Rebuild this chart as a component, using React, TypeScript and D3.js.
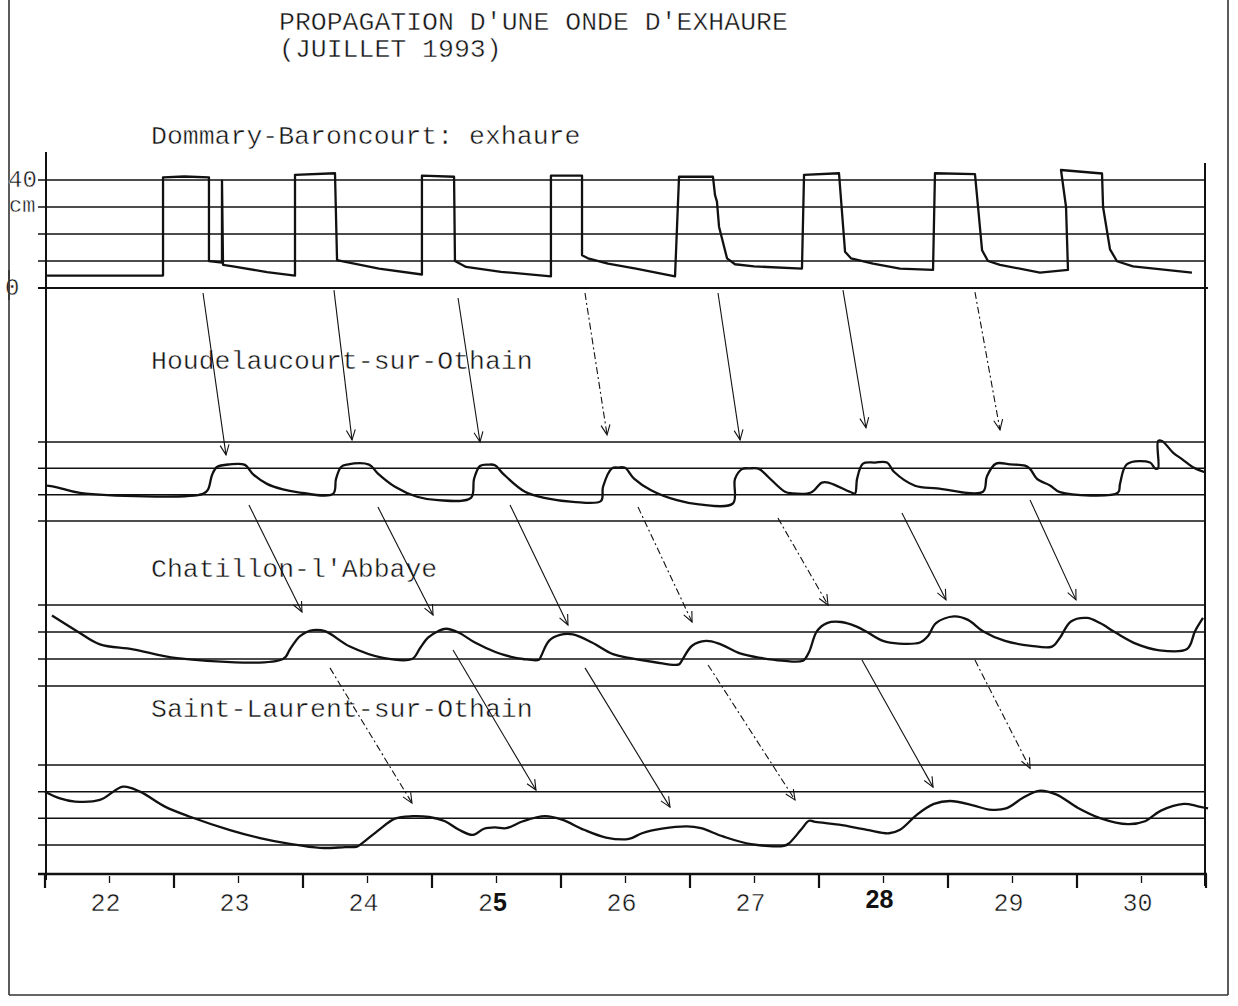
import React from 'react';
import * as d3 from 'd3';

// ---------- DATA ----------
const titleLines = ["PROPAGATION D'UNE ONDE D'EXHAURE", '(JUILLET 1993)'];
const stationNames = ['Dommary-Baroncourt: exhaure', 'Houdelaucourt-sur-Othain', "Chatillon-l'Abbaye", 'Saint-Laurent-sur-Othain'];
const dayBoundaries = [22, 23, 24, 25, 26, 27, 28, 29, 30, 31];
const dayLabels = ['22', '23', '24', '25', '26', '27', '28', '29', '30'];
const dommaryTicks = [0, 10, 20, 30, 40];
const levelTicks = [0, 1, 2, 3];

// [day (July), water level in cm]
const dommary: [number, number][] = [
  [22.016, 4.6], [22.915, 4.6], [22.915, 41], [23.08, 41.3], [23.271, 41], [23.271, 10], [23.372, 9.4], [23.372, 39.8],
  [23.38, 8.6], [23.457, 8], [23.721, 5.9], [23.938, 4.6], [23.938, 41.9], [24.248, 42.5], [24.264, 10.3], [24.31, 9.9],
  [24.589, 7.2], [24.922, 5], [24.922, 41.6], [25.171, 41.2], [25.178, 10], [25.264, 7.8], [25.535, 6], [25.922, 4.3],
  [25.922, 41.6], [26.163, 41.6], [26.163, 12.1], [26.209, 11], [26.364, 9], [26.581, 7.2], [26.884, 4.3], [26.915, 41.2],
  [27.178, 41.2], [27.194, 34.4], [27.209, 32], [27.225, 22.7], [27.287, 11], [27.349, 8.8], [27.496, 8], [27.868, 7.2],
  [27.884, 41.9], [28.155, 42.5], [28.171, 32.6], [28.202, 13.4], [28.248, 11], [28.419, 9], [28.628, 7.2], [28.884, 6.7],
  [28.899, 42.5], [29.209, 42.2], [29.233, 30], [29.264, 14], [29.31, 10], [29.403, 8.6], [29.713, 5.7], [29.93, 6.7],
  [29.915, 30], [29.876, 43.7], [30.194, 42.4], [30.202, 30], [30.256, 14.3], [30.31, 9.9], [30.434, 8], [30.891, 5.7],
];

// [day, relative level (grid units)]
const houdelaucourt: [number, number][] = [
  [22.016, 1.34], [22.093, 1.28], [22.271, 1.07], [23.225, 1.03], [23.264, 1.2], [23.295, 1.75], [23.333, 2.05], [23.434, 2.15],
  [23.55, 2.13], [23.612, 1.78], [23.721, 1.41], [23.845, 1.2], [23.953, 1.1], [24.233, 1.03], [24.256, 1.6], [24.295, 2.05],
  [24.341, 2.14], [24.512, 2.14], [24.581, 1.8], [24.713, 1.3], [24.884, 0.92], [25.047, 0.79], [25.302, 0.88], [25.326, 1.6],
  [25.372, 2.09], [25.434, 2.14], [25.488, 2.12], [25.55, 1.8], [25.721, 1.11], [25.891, 0.86], [26.093, 0.73], [26.31, 0.76],
  [26.326, 1.3], [26.395, 2.0], [26.442, 2.03], [26.496, 2.02], [26.566, 1.61], [26.698, 1.17], [26.899, 0.79], [27.07, 0.63],
  [27.333, 0.67], [27.349, 1.6], [27.403, 1.97], [27.465, 2.0], [27.535, 1.98], [27.605, 1.68], [27.736, 1.11], [27.791, 1.05],
  [27.938, 1.08], [28.023, 1.46], [28.078, 1.45], [28.24, 1.11], [28.279, 1.05], [28.295, 1.6], [28.341, 2.18], [28.434, 2.22],
  [28.527, 2.22], [28.581, 1.87], [28.744, 1.34], [28.915, 1.24], [29.271, 1.11], [29.302, 1.7], [29.372, 2.18], [29.481, 2.15],
  [29.597, 2.1], [29.636, 1.98], [29.69, 1.6], [29.791, 1.35], [29.868, 1.1], [30.318, 1.08], [30.333, 1.4], [30.388, 2.16],
  [30.566, 2.22], [30.605, 2.0], [30.628, 2.0], [30.629, 3.04], [30.659, 3.04], [30.744, 2.6], [30.814, 2.35], [30.899, 2.04],
  [30.992, 1.85],
];

const chatillon: [number, number][] = [
  [22.054, 2.61], [22.248, 2.03], [22.426, 1.54], [22.682, 1.36], [23.023, 1.03], [23.845, 1.0], [23.899, 1.36], [23.977, 1.85],
  [24.078, 2.07], [24.171, 2.03], [24.364, 1.46], [24.62, 1.04], [24.845, 1.0], [24.907, 1.4], [24.969, 1.79], [25.047, 2.03],
  [25.109, 2.12], [25.209, 1.97], [25.333, 1.61], [25.496, 1.25], [25.605, 1.09], [25.705, 1.0], [25.829, 0.97], [25.845, 1.1],
  [25.907, 1.67], [25.992, 1.89], [26.093, 1.91], [26.24, 1.61], [26.403, 1.18], [26.527, 1.04], [26.729, 0.88], [26.915, 0.8],
  [26.938, 0.95], [27.016, 1.49], [27.124, 1.67], [27.225, 1.57], [27.388, 1.21], [27.55, 1.04], [27.713, 0.94], [27.876, 0.94],
  [27.922, 1.25], [27.984, 2.03], [28.062, 2.33], [28.171, 2.37], [28.287, 2.21], [28.372, 2.0], [28.496, 1.67], [28.62, 1.57],
  [28.783, 1.61], [28.845, 1.85], [28.907, 2.33], [29.047, 2.58], [29.155, 2.45], [29.271, 2.03], [29.442, 1.67], [29.643, 1.49],
  [29.806, 1.46], [29.868, 1.79], [29.953, 2.39], [30.078, 2.52], [30.178, 2.33], [30.302, 1.97], [30.465, 1.55], [30.628, 1.33],
  [30.853, 1.37], [30.915, 2.03], [30.977, 2.52],
];

const saintLaurent: [number, number][] = [
  [22.0, 2.0], [22.116, 1.75], [22.233, 1.63], [22.426, 1.69], [22.605, 2.19], [22.736, 2.0], [22.93, 1.44], [23.124, 1.06],
  [23.434, 0.56], [23.667, 0.26], [23.899, 0.04], [24.132, -0.11], [24.326, -0.08], [24.419, -0.06], [24.457, 0.06], [24.589, 0.57],
  [24.713, 0.99], [24.845, 1.08], [24.977, 1.05], [25.101, 0.89], [25.209, 0.57], [25.318, 0.38], [25.403, 0.61], [25.488, 0.66],
  [25.574, 0.63], [25.705, 0.89], [25.876, 1.08], [26.008, 0.95], [26.178, 0.57], [26.349, 0.28], [26.527, 0.23], [26.628, 0.44],
  [26.783, 0.61], [26.977, 0.7], [27.085, 0.63], [27.256, 0.32], [27.473, 0.03], [27.729, -0.03], [27.767, 0.06], [27.86, 0.57],
  [27.922, 0.91], [27.961, 0.88], [28.155, 0.76], [28.372, 0.57], [28.543, 0.44], [28.628, 0.57], [28.76, 1.14], [28.891, 1.54],
  [29.016, 1.65], [29.194, 1.49], [29.318, 1.33], [29.45, 1.37], [29.581, 1.77], [29.705, 2.03], [29.837, 1.9], [30.008, 1.39],
  [30.178, 1.01], [30.395, 0.78], [30.527, 0.89], [30.651, 1.29], [30.829, 1.54], [30.93, 1.46], [31.016, 1.37],
];

// arrows: [start day, start value (upper station units), end day, end value (lower station units)]
const arrowsDomHou: [number, number, number, number][] = [
  [23.225, -1.85, 23.403, 2.51], [24.24, -0.8, 24.38, 3.08], [25.202, -3.7, 25.372, 3.0], [26.186, -1.85, 26.357, 3.27],
  [27.217, -1.85, 27.388, 3.08], [28.186, -0.8, 28.364, 3.54], [29.209, -1.5, 29.403, 3.46],
];
const arrowsHouCha: [number, number, number, number][] = [
  [23.581, 0.61, 23.992, 2.74], [24.581, 0.53, 25.008, 2.63], [25.605, 0.61, 26.054, 2.26], [26.597, 0.53, 27.016, 2.37],
  [27.682, 0.11, 28.07, 3.0], [28.643, 0.3, 28.984, 3.19], [29.636, 0.8, 29.992, 3.19],
];
const arrowsChaSai: [number, number, number, number][] = [
  [24.209, 0.67, 24.845, 1.57], [25.163, 1.33, 25.806, 2.06], [26.186, 0.67, 26.845, 1.42], [27.14, 0.78, 27.814, 1.69],
  [28.333, 0.96, 28.884, 2.17], [29.209, 0.96, 29.636, 2.88],
];
const dashedDomHou = [3, 6];
const dashedHouCha = [3, 4];
const dashedChaSai = [0, 3, 5];

// ---------- CHART ----------
const MONO = "'Liberation Mono', 'DejaVu Sans Mono', monospace";
const INK = '#111';
const thin = { stroke: '#fff', strokeWidth: 0.45, paintOrder: 'fill' } as const;

function Arrow({ x1, y1, x2, y2, dashed }: { x1: number; y1: number; x2: number; y2: number; dashed: boolean }) {
  const ang = Math.atan2(y2 - y1, x2 - x1);
  const L = 11;
  const a1 = ang + Math.PI - 0.42;
  const a2 = ang + Math.PI + 0.42;
  return (
    <g stroke={INK} strokeWidth={1.1} fill="none">
      <line x1={x1} y1={y1} x2={x2} y2={y2} strokeDasharray={dashed ? '7,3,2,3' : undefined} />
      <path d={`M${x2 + L * Math.cos(a1)},${y2 + L * Math.sin(a1)}L${x2},${y2}L${x2 + L * Math.cos(a2)},${y2 + L * Math.sin(a2)}`} />
    </g>
  );
}

export default function App() {
  const x = d3.scaleLinear().domain([22, 31]).range([45, 1206]);
  const y1 = d3.scaleLinear().domain([0, 40]).range([288, 180]);
  const y2 = d3.scaleLinear().domain([0, 3]).range([521, 442]);
  const y3 = d3.scaleLinear().domain([0, 3]).range([686, 605]);
  const y4 = d3.scaleLinear().domain([0, 3]).range([845, 765]);

  const lineLin = (ys: d3.ScaleLinear<number, number>) =>
    d3.line<[number, number]>().x((d) => x(d[0])).y((d) => ys(d[1]));
  const lineSmooth = (ys: d3.ScaleLinear<number, number>) =>
    d3.line<[number, number]>().x((d) => x(d[0])).y((d) => ys(d[1])).curve(d3.curveCatmullRom.alpha(0.5));

  const gridLeft = 38;
  const gridRight = 1205;
  const axisY = 874;

  const panels = [
    { ys: y2, data: houdelaucourt },
    { ys: y3, data: chatillon },
    { ys: y4, data: saintLaurent },
  ];

  const arrowGroups = [
    { arr: arrowsDomHou, from: y1, to: y2, dashed: dashedDomHou },
    { arr: arrowsHouCha, from: y2, to: y3, dashed: dashedHouCha },
    { arr: arrowsChaSai, from: y3, to: y4, dashed: dashedChaSai },
  ];

  const labelY = [144, 369, 577, 717];

  return (
    <svg width={1238} height={1006} style={{ position: 'absolute', left: 0, top: 0, background: '#fff' }}>
      <rect x={0} y={0} width={1238} height={1006} fill="#fff" />
      {/* outer frame */}
      <g stroke="#333" strokeWidth={1.6} fill="none">
        <line x1={9} y1={0} x2={9} y2={995} />
        <line x1={9} y1={995} x2={1228} y2={995} />
        <line x1={1228} y1={0} x2={1228} y2={995} />
      </g>

      {/* title */}
      {titleLines.map((t, i) => (
        <text key={t} x={279} y={30 + i * 27} fontFamily={MONO} fontSize={26.5} fill={INK} {...thin}>
          {t}
        </text>
      ))}

      {/* station labels */}
      {stationNames.map((s, i) => (
        <text key={s} x={151} y={labelY[i]} fontFamily={MONO} fontSize={26.5} fill={INK} {...thin}>
          {s}
        </text>
      ))}

      {/* horizontal grid lines */}
      <g stroke={INK} strokeWidth={1.5}>
        {dommaryTicks.map((v) => (
          <line key={'d' + v} x1={gridLeft} x2={gridRight + (v === 0 ? 3 : 0)} y1={y1(v)} y2={y1(v)} strokeWidth={v === 0 ? 2 : 1.5} />
        ))}
        {panels.map((p, pi) =>
          levelTicks.map((v) => (
            <line key={pi + '-' + v} x1={gridLeft} x2={gridRight} y1={p.ys(v)} y2={p.ys(v)} />
          ))
        )}
      </g>

      {/* vertical axes */}
      <g stroke={INK} strokeWidth={2}>
        <line x1={46} y1={152} x2={46} y2={axisY + 6} />
        <line x1={1205} y1={163} x2={1205} y2={axisY + 12} />
        <line x1={gridLeft} y1={axisY} x2={1207} y2={axisY} strokeWidth={2.4} />
      </g>

      {/* x ticks */}
      <g stroke={INK}>
        {dayBoundaries.map((d) => (
          <line key={'M' + d} x1={x(d)} x2={x(d)} y1={axisY} y2={axisY + 14} strokeWidth={2.2} />
        ))}
        {dayLabels.map((l) => (
          <line key={'m' + l} x1={x(+l + 0.5)} x2={x(+l + 0.5)} y1={axisY + 2} y2={axisY + 9} strokeWidth={1.3} />
        ))}
      </g>
      {dayLabels.map((l) => {
        const cx = x(+l + 0.5) - 4;
        if (l === '28') {
          return (
            <text key={l} x={cx} y={908} textAnchor="middle" fontFamily="'Liberation Sans', Arial, sans-serif" fontWeight="bold" fontSize={25} fill={INK}>
              {l}
            </text>
          );
        }
        if (l === '25') {
          return (
            <text key={l} x={cx} y={911} textAnchor="middle" fontFamily={MONO} fontSize={25} fill={INK}>
              <tspan {...thin}>2</tspan>
              <tspan fontFamily="'Liberation Sans', Arial, sans-serif" fontWeight="bold">5</tspan>
            </text>
          );
        }
        return (
          <text key={l} x={cx} y={911} textAnchor="middle" fontFamily={MONO} fontSize={25} fill={INK} {...thin}>
            {l}
          </text>
        );
      })}

      {/* y labels for exhaure */}
      <text x={8} y={187} fontFamily={MONO} fontSize={24} fill={INK} {...thin}>40</text>
      <text x={9} y={212} fontFamily={MONO} fontSize={22} fill={INK} {...thin}>cm</text>
      <text x={5} y={295} fontFamily={MONO} fontSize={24} fill={INK} {...thin}>0</text>
      <line x1={9} y1={270} x2={9} y2={300} stroke="#333" strokeWidth={1.6} />

      {/* traces */}
      <path d={lineLin(y1)(dommary) || ''} fill="none" stroke={INK} strokeWidth={2.3} strokeLinejoin="round" />
      {panels.map((p, i) => (
        <path key={i} d={lineSmooth(p.ys)(p.data) || ''} fill="none" stroke={INK} strokeWidth={2.3} strokeLinejoin="round" />
      ))}

      {/* propagation arrows */}
      {arrowGroups.map((g, gi) =>
        g.arr.map((a, i) => (
          <Arrow key={gi + '-' + i} x1={x(a[0])} y1={g.from(a[1])} x2={x(a[2])} y2={g.to(a[3])} dashed={g.dashed.includes(i)} />
        ))
      )}
    </svg>
  );
}
